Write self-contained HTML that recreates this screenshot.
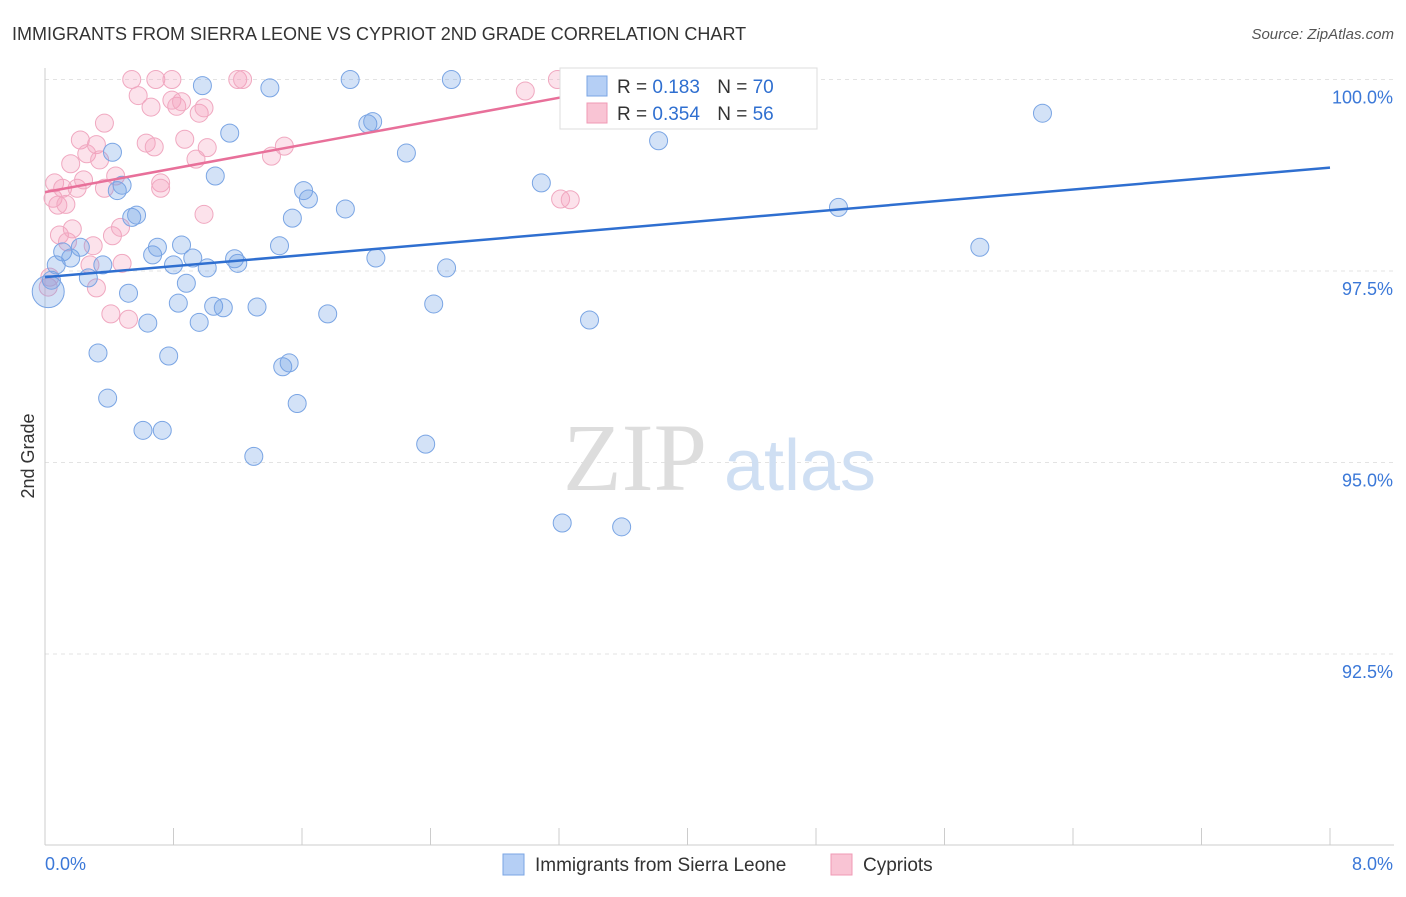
<!DOCTYPE html>
<html><head><meta charset="utf-8"><style>
body{margin:0;background:#fff;font-family:"Liberation Sans",sans-serif}
</style></head><body>
<svg id="c" width="1406" height="892" font-family="Liberation Sans, sans-serif">
<text x="12" y="40" font-size="18" fill="#333">IMMIGRANTS FROM SIERRA LEONE VS CYPRIOT 2ND GRADE CORRELATION CHART</text>
<text x="1394" y="39" font-size="15" fill="#555" text-anchor="end" font-style="italic">Source: ZipAtlas.com</text>
<text x="34" y="456" font-size="18" fill="#333" transform="rotate(-90 34 456)" text-anchor="middle">2nd Grade</text>
<g id="grid"></g>
<g><text x="635" y="490" font-size="96" fill="#ddd" text-anchor="middle" font-family="Liberation Serif, serif">ZIP</text><text x="800" y="490" font-size="72" fill="#cfdff3" text-anchor="middle">atlas</text></g>
<g id="marks"></g>
<g>
<rect x="560" y="68" width="257" height="61" fill="#fff" stroke="#ddd"/>
<rect x="587" y="76" width="20" height="20" fill="#b5cff5" stroke="#7aa5e4"/>
<rect x="587" y="103" width="20" height="20" fill="#f9c4d4" stroke="#f09ab5"/>
<text x="617" y="93" font-size="19" fill="#333">R = <tspan fill="#2f6fd0">0.183</tspan>  <tspan dx="12">N = </tspan><tspan fill="#2f6fd0">70</tspan></text>
<text x="617" y="120" font-size="19" fill="#333">R = <tspan fill="#2f6fd0">0.354</tspan>  <tspan dx="12">N = </tspan><tspan fill="#2f6fd0">56</tspan></text>
</g>
<g>
<rect x="503" y="854" width="21" height="21" fill="#b5cff5" stroke="#7aa5e4"/>
<text x="535" y="871" font-size="19" fill="#333">Immigrants from Sierra Leone</text>
<rect x="831" y="854" width="21" height="21" fill="#f9c4d4" stroke="#f09ab5"/>
<text x="863" y="871" font-size="19" fill="#333">Cypriots</text>
</g>
</svg>
<script>
const yTicks=[100,97.5,95,92.5];
const yTickLabels=["100.0%","97.5%","95.0%","92.5%"];
const xEndLabels=["0.0%","8.0%"];
const blueX=[0.02,0.04,0.07,0.11,0.16,0.22,0.27,0.36,0.33,0.39,0.42,0.45,0.48,0.52,0.54,0.57,0.61,0.64,0.67,0.70,0.73,0.77,0.80,0.83,0.85,0.88,0.92,0.96,0.98,1.01,1.05,1.06,1.11,1.15,1.18,1.20,1.30,1.32,1.40,1.46,1.48,1.52,1.54,1.57,1.61,1.64,1.76,1.87,1.90,2.01,2.04,2.06,2.25,2.37,2.42,2.50,2.53,3.09,3.22,3.34,3.39,3.59,3.82,4.31,4.94,5.82,6.21];
const blueY=[97.23,97.38,97.58,97.75,97.67,97.81,97.41,97.58,96.43,95.84,99.05,98.55,98.62,97.21,98.20,98.23,95.42,96.82,97.71,97.81,95.42,96.39,97.58,97.08,97.84,97.34,97.67,96.83,99.92,97.54,97.04,98.74,97.02,99.30,97.66,97.60,95.08,97.03,99.89,97.83,96.25,96.30,98.19,95.77,98.55,98.44,96.94,98.31,100.0,99.42,99.45,97.67,99.04,95.24,97.07,97.54,100.0,98.65,94.21,100.0,96.86,94.16,99.20,100.0,98.33,97.81,99.56];
const pinkX=[0.02,0.03,0.05,0.06,0.08,0.09,0.11,0.13,0.14,0.16,0.17,0.20,0.22,0.24,0.26,0.28,0.30,0.32,0.32,0.34,0.37,0.37,0.41,0.42,0.44,0.47,0.48,0.52,0.54,0.58,0.63,0.66,0.68,0.69,0.72,0.72,0.79,0.79,0.82,0.85,0.87,0.94,0.96,0.99,0.99,1.01,1.20,1.23,1.41,1.49,2.99,3.19,3.21,3.27];
const pinkY=[97.29,97.42,98.45,98.65,98.36,97.97,98.58,98.37,97.88,98.90,98.05,98.58,99.21,98.69,99.03,97.58,97.83,99.15,97.28,98.95,99.43,98.58,96.94,97.96,98.74,98.07,97.60,96.87,100.0,99.79,99.17,99.64,99.12,100.0,98.65,98.58,100.0,99.73,99.65,99.71,99.22,98.96,99.56,99.63,98.24,99.11,100.0,100.0,99.00,99.13,99.85,100.0,98.44,98.43];
const blueTrend=[[0,97.42],[8,98.85]];
const pinkTrend=[[0,98.53],[3.82,100.0]];
const NS="http://www.w3.org/2000/svg";
const X=v=>45+v/8*1285, Y=v=>79.5+(100-v)*76.6;
function mk(t,a,p){const e=document.createElementNS(NS,t);for(const k in a)e.setAttribute(k,a[k]);p.appendChild(e);return e;}
const g=document.getElementById('grid'),m=document.getElementById('marks');
yTicks.forEach((t,i)=>{
 const l=mk('line',{x1:45,x2:1394,y1:Y(t),y2:Y(t),stroke:'#e3e3e3','stroke-dasharray':'4,4'},g);
 
 
 const tx=mk('text',{x:1393,y:Y(t)+24,'font-size':18,fill:'#3b78d8','text-anchor':'end'},g);tx.textContent=yTickLabels[i];
 
 
});
const ax=mk('line',{x1:45,x2:45,y1:68,y2:845,stroke:'#ccc'},g);


const bx=mk('line',{x1:45,x2:1394,y1:845,y2:845,stroke:'#ccc'},g);


for(let i=0;i<=10;i++){const t=mk('line',{x1:X(i*0.8),x2:X(i*0.8),y1:828,y2:845,stroke:'#ccc'},g);
 
 }
[[45,'start'],[1393,'end']].forEach((p,i)=>{const t=mk('text',{x:p[0],y:870,'font-size':18,fill:'#3b78d8','text-anchor':p[1]},g);t.textContent=xEndLabels[i];
 
 });
function pts(xs,ys,fill,stroke,name){xs.forEach((x,i)=>{const r=(name==='blue-point'&&i===0)?16:9;
 const c=mk('circle',{cx:X(x),cy:Y(ys[i]),r:r,fill:fill,stroke:stroke,'stroke-width':1},m);
 
 });}
pts(pinkX,pinkY,'rgba(244,160,190,0.3)','#f0a8c0','pink-point');
pts(blueX,blueY,'rgba(110,160,230,0.3)','#7aa5e4','blue-point');
const bl=mk('line',{x1:X(blueTrend[0][0]),y1:Y(blueTrend[0][1]),x2:X(blueTrend[1][0]),y2:Y(blueTrend[1][1]),stroke:'#2f6fd0','stroke-width':2.5},m);


const pl=mk('line',{x1:X(pinkTrend[0][0]),y1:Y(pinkTrend[0][1]),x2:X(pinkTrend[1][0]),y2:Y(pinkTrend[1][1]),stroke:'#e8709a','stroke-width':2.5},m);


</script>
</body></html>
